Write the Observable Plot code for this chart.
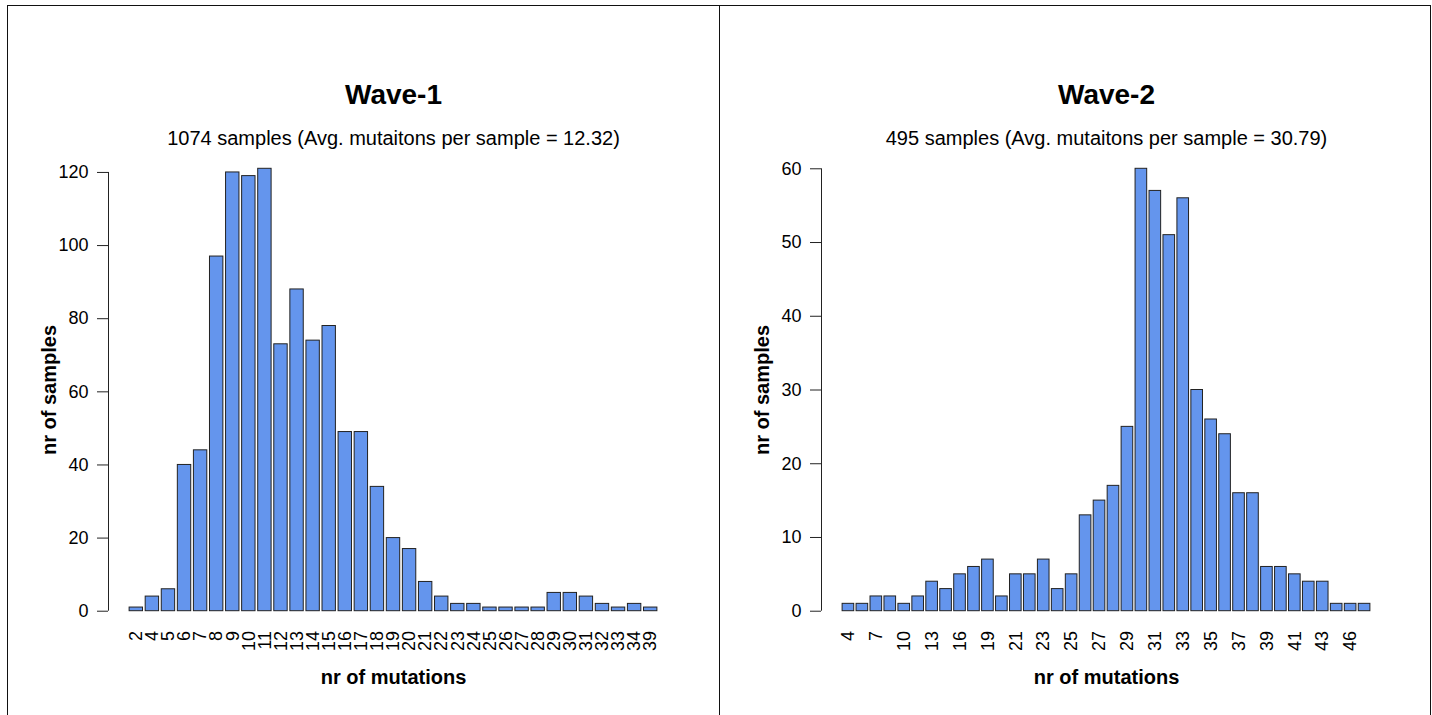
<!DOCTYPE html>
<html><head><meta charset="utf-8">
<script src="https://cdn.jsdelivr.net/npm/d3@7"></script>
<script src="https://cdn.jsdelivr.net/npm/@observablehq/plot@0.6"></script>
<style>
body{margin:0;background:#fff;}
#wrap{position:relative;width:1432px;height:715px;overflow:hidden;background:#fff;font-family:"Liberation Sans",Arial,sans-serif;}
.panel{position:absolute;top:0;}
#frame{position:absolute;left:7px;top:5px;width:1424px;height:720px;border:1px solid #111;border-bottom:none;box-sizing:border-box;pointer-events:none;}
#divider{position:absolute;left:719px;top:5px;width:1px;height:710px;background:#111;}
</style></head><body>
<div id="wrap"><div id="p1" class="panel" style="left:0"></div><div id="p2" class="panel" style="left:713px"></div><div id="frame"></div><div id="divider"></div></div>
<script>
// ---- Wave-1 data ----
const wave1Mutations = [2,4,5,6,7,8,9,10,11,12,13,14,15,16,17,18,19,20,21,22,23,24,25,26,27,28,29,30,31,32,33,34,39];
const wave1Samples   = [1,4,6,40,44,97,120,119,121,73,88,74,78,49,49,34,20,17,8,4,2,2,1,1,1,1,5,5,4,2,1,2,1];
const wave1ShownLabels = wave1Mutations.slice();
const wave1YTicks = [0,20,40,60,80,100,120];

// ---- Wave-2 data ----
const wave2Mutations = [4,5,7,8,10,11,13,14,16,17,19,20,21,22,23,24,25,26,27,28,29,30,31,32,33,34,35,36,37,38,39,40,41,42,43,44,46,54];
const wave2Samples   = [1,1,2,2,1,2,4,3,5,6,7,2,5,5,7,3,5,13,15,17,25,60,57,51,56,30,26,24,16,16,6,6,5,4,4,1,1,1];
const wave2ShownLabels = [4,7,10,13,16,19,21,23,25,27,29,31,33,35,37,39,41,43,46];
const wave2YTicks = [0,10,20,30,40,50,60];

// ---- Text ----
const titles = ["Wave-1", "Wave-2"];
const subtitles = ["1074 samples (Avg. mutaitons per sample = 12.32)", "495 samples (Avg. mutaitons per sample = 30.79)"];
const xTitle = "nr of mutations";
const yTitle = "nr of samples";

const FONT = '"Liberation Sans", Arial, Helvetica, sans-serif';

function panel(cats, counts, shown, yTicks, title, subtitle) {
  const n = cats.length;
  const data = cats.map((c, i) => ({cat: c, count: counts[i], x1: 0.2 + i * 1.2, x2: 1.2 + i * 1.2, mid: 0.7 + i * 1.2}));
  const xr = [0.2, n * 1.2];
  const ext = 0.04 * (xr[1] - xr[0]);
  const xDomain = [xr[0] - ext, xr[1] + ext];
  const yMax = d3.max(counts);
  const yDomain = [-0.04 * yMax, yMax * 1.04];
  const tickData = data.filter(d => shown.includes(d.cat));
  const labelOf = v => String(cats[Math.round((v - 0.7) / 1.2)]);
  return Plot.plot({
    width: 716, height: 715,
    marginLeft: 108, marginRight: 38, marginTop: 150.6, marginBottom: 86.6,
    style: {background: "transparent", fontFamily: FONT, color: "#000", overflow: "visible"},
    x: {type: "linear", domain: xDomain},
    y: {type: "linear", domain: yDomain},
    marks: [
      Plot.rect(data, {x1: "x1", x2: "x2", y1: 0, y2: "count", fill: "#6495ED", stroke: "#222", strokeWidth: 1}),
      Plot.ruleX([xDomain[0]], {y1: yTicks[0], y2: yTicks[yTicks.length - 1], stroke: "#222", strokeWidth: 1}),
      Plot.axisY({ticks: yTicks, tickSize: 11, tickPadding: 9, fontSize: 18, label: null, stroke: "#222"}),
      Plot.axisX({ticks: tickData.map(d => d.mid), tickFormat: labelOf, tickRotate: -90, tickSize: 0, tickPadding: 2, fontSize: 18, label: null}),
      Plot.text([title], {frameAnchor: "top", dy: -47, fontSize: 28, fontWeight: "bold", lineAnchor: "bottom", textAnchor: "middle"}),
      Plot.text([subtitle], {frameAnchor: "top", dy: -6.6, fontSize: 20, lineAnchor: "bottom", textAnchor: "middle"}),
      Plot.text([xTitle], {frameAnchor: "bottom", dy: 54.6, fontSize: 20, fontWeight: "bold", lineAnchor: "bottom", textAnchor: "middle"}),
      Plot.text([yTitle], {frameAnchor: "left", dx: -53, rotate: -90, fontSize: 20, fontWeight: "bold", lineAnchor: "bottom", textAnchor: "middle"})
    ]
  });
}

document.getElementById("p1").appendChild(panel(wave1Mutations, wave1Samples, wave1ShownLabels, wave1YTicks, titles[0], subtitles[0]));
document.getElementById("p2").appendChild(panel(wave2Mutations, wave2Samples, wave2ShownLabels, wave2YTicks, titles[1], subtitles[1]));
</script>
</body></html>
